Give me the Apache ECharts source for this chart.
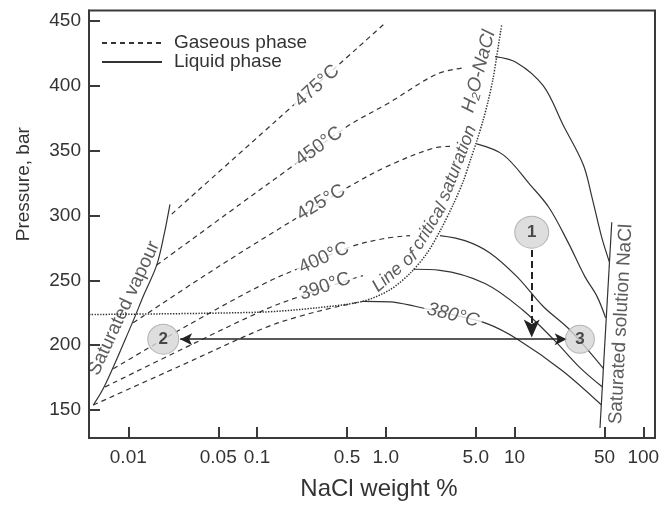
<!DOCTYPE html>
<html><head><meta charset="utf-8">
<script src="https://cdn.jsdelivr.net/npm/echarts@6/dist/echarts.min.js"></script>
<style>html,body{margin:0;padding:0;background:#fff}#c{width:667px;height:506px}</style>
</head><body><div id="c"></div>
<script>
// ---- axis ticks ----
const xTickValues = [0.01, 0.05, 0.1, 0.5, 1, 5, 10, 50, 100];
const xTickLabels = ['0.01', '0.05', '0.1', '0.5', '1.0', '5.0', '10', '50', '100'];
const yTickValues = [150, 200, 250, 300, 350, 400, 450];

// ---- curves: [NaCl wt %, pressure bar] ----
const satVapour = [[0.00535,153.8],[0.00659,169],[0.01063,216],[0.01324,239],[0.01662,261.7],[0.01893,284.8],[0.02108,308.6]];
const satSolution = [[46.1,136.1],[56.9,294.7]];
const critical = [[0.00496,223.6],[0.1054,225.4],[0.2922,228.8],[0.665,233.8],[1.078,242.7],[1.541,255.3],[2.078,270.5],[2.632,287.8],[3.344,308.6],[4.0,326.4],[4.51,341.7],[5.08,357.1],[5.69,373.1],[6.22,387.6],[6.80,405.1],[7.31,424.1],[7.95,447.0]];

const gas475 = [[0.02173,301],[0.1442,374],[0.957,447]];
const gas450 = [[0.01662,261.7],[0.0737,308.6],[0.1803,336.6],[0.4966,368.3],[1.079,387.3],[2.486,408.9],[4.125,414.0]];
const gas425 = [[0.01093,217.2],[0.0401,254.3],[0.1507,290.1],[0.5305,322.8],[1.078,338.8],[2.328,351.8],[3.152,353.3]];
const gas400 = [[0.00765,181.8],[0.0301,216.2],[0.1153,247.7],[0.2156,259.6],[0.527,275.6],[0.951,282.0],[1.542,284.5]];
const gas390 = [[0.00659,167.7],[0.02757,198.0],[0.1153,227.4],[0.2156,237.6],[0.527,250.5],[0.665,253.6]];
const gas380 = [[0.00535,153.8],[0.02521,183.9],[0.1153,213.4],[0.2156,222.3],[0.4031,229.2],[0.665,233.8]];

const liq450 = [[7.05,422.4],[10.4,417.8],[16.7,400],[23.9,369.5],[34.2,339.1],[40.0,313.7],[47.5,283.3],[54.5,264.2]];
const liq425 = [[5.08,355.2],[8.18,346.7],[13.18,323.8],[18.5,306.1],[26.0,279.4],[35.2,252.8],[43.7,237.6],[51.0,221.0]];
const liq400 = [[2.636,284.5],[4.12,280.6],[6.44,271.1],[10.44,252.8],[16.63,230.0],[26.0,213.2],[38.5,194.4],[49.1,181.8]];
const liq390 = [[1.635,258.5],[2.636,257.7],[5.90,247.5],[11.63,226.9],[20.6,203.3],[32.2,182.7],[48.2,167.7]];
const liq380 = [[0.665,233.8],[1.078,233.4],[1.686,230.0],[3.152,223.9],[6.11,216.6],[10.53,204.6],[23.4,180.5],[47.4,153.8]];

// ---- points 1,2,3 and arrows ----
const pointNames = ['1', '2', '3'];
const pointValues = [[13.6,287.1],[0.01869,204.6],[32.2,204.6]];
const arrowHoriz = [[0.02529,204.6],[25.4,204.6]];
const arrowDown = [[13.6,273.4],[13.6,205.8]];

// ---- annotation texts at [wt %, bar] ----
const tempTexts = ['475°C','450°C','425°C','400°C','390°C','380°C'];
const tempAt = [[0.2922,399.8],[0.3029,353.3],[0.3139,309.9],[0.3311,267.3],[0.3372,245.2],[3.327,223.1]];
const noteTexts = ['Saturated vapour','Saturated solution NaCl','Line of','critical','saturation','H\u2082O-NaCl'];
const noteAt = [[0.00926,228.4],[67.1,216.2],[1.181,257.1],[2.193,291.6],[3.612,340.4],[5.29,411]];

// styles (not data)
const tempRot = [42, 36, 31, 24, 19, -14];
const tempItalic = [false,false,false,false,false,true];
const noteRot = [65, 87, 41, 59, 69, 75];
const noteItalic = [false,false,true,true,true,true];
const noteSize = [19, 19, 18, 18, 18, 19];
const pointSizes = [[34,32],[31,30],[29,28]];

const lg = v => Math.log10(v);
const tr = arr => arr.map(p => [lg(p[0]), p[1]]);
const INK = '#333';
const FONT = '"Liberation Sans", Arial, sans-serif';

function lineSeries(name, data, type, width, extra) {
  return Object.assign({
    name: name, type: 'line', data: tr(data), symbol: 'none', smooth: 0.35,
    lineStyle: { color: INK, width: width, type: type },
    itemStyle: { color: INK }, z: 3, silent: true
  }, extra || {});
}

const dash = [5, 4];
const series = [
  lineSeries('Gaseous phase', gas475, dash, 1.2),
  lineSeries('Gaseous phase', gas450, dash, 1.2),
  lineSeries('Gaseous phase', gas425, dash, 1.2),
  lineSeries('Gaseous phase', gas400, dash, 1.2),
  lineSeries('Gaseous phase', gas390, dash, 1.2),
  lineSeries('Gaseous phase', gas380, dash, 1.2),
  lineSeries('Liquid phase', liq450, 'solid', 1.2),
  lineSeries('Liquid phase', liq425, 'solid', 1.2),
  lineSeries('Liquid phase', liq400, 'solid', 1.2),
  lineSeries('Liquid phase', liq390, 'solid', 1.2),
  lineSeries('Liquid phase', liq380, 'solid', 1.2),
  lineSeries('sv', satVapour, 'solid', 1.2),
  lineSeries('ss', satSolution, 'solid', 1.2, {smooth: false}),
  lineSeries('crit', critical, [1.4, 1.4], 1.5, {smooth: 0.3}),
  {
    name: 'arrows', type: 'line', data: [], silent: true,
    markLine: {
      silent: true, animation: false, label: { show: false },
      data: [
        [{ coord: [lg(arrowHoriz[0][0]), arrowHoriz[0][1]], symbol: 'arrow' },
         { coord: [lg(arrowHoriz[1][0]), arrowHoriz[1][1]], symbol: 'arrow' }],
        [{ coord: [lg(arrowDown[0][0]), arrowDown[0][1]], symbol: 'none', lineStyle: { type: [7, 4], width: 2 } },
         { coord: [lg(arrowDown[1][0]), arrowDown[1][1]], symbol: 'arrow', symbolSize: [12, 18] }]
      ],
      symbolSize: [9, 12],
      lineStyle: { color: '#222', width: 1.5, type: 'solid' }
    }, z: 4
  },
  {
    name: 'temps', type: 'scatter', symbolSize: 1, itemStyle: { color: 'rgba(0,0,0,0)' }, silent: true, z: 6,
    data: tempTexts.map((t, i) => ({
      value: [lg(tempAt[i][0]), tempAt[i][1]],
      label: { show: true, position: 'inside', formatter: t, rotate: tempRot[i],
        fontSize: 19, fontFamily: FONT, color: INK, fontStyle: tempItalic[i] ? 'italic' : 'normal',
        backgroundColor: '#fff', padding: [0, 3] }
    }))
  },
  {
    name: 'notes', type: 'scatter', symbolSize: 1, itemStyle: { color: 'rgba(0,0,0,0)' }, silent: true, z: 6,
    data: noteTexts.map((t, i) => ({
      value: [lg(noteAt[i][0]), noteAt[i][1]],
      label: { show: true, position: 'inside', formatter: t, rotate: noteRot[i],
        fontSize: noteSize[i], fontFamily: FONT, color: INK, fontStyle: noteItalic[i] ? 'italic' : 'normal' }
    }))
  },
  {
    name: 'points', type: 'scatter', silent: true, z: 7,
    data: pointNames.map((n, i) => ({
      value: [lg(pointValues[i][0]), pointValues[i][1]],
      symbolSize: pointSizes[i],
      label: { show: true, position: 'inside', formatter: n, fontSize: 17, fontWeight: 'bold', fontFamily: FONT, color: '#222' }
    })),
    symbol: 'circle',
    itemStyle: { color: '#d6d6d6', borderColor: '#a5a5a5', borderWidth: 1 }
  }
];

const chart = echarts.init(document.getElementById('c'), null, { renderer: 'canvas' });
chart.setOption({
  animation: false,
  backgroundColor: '#fff',
  textStyle: { fontFamily: FONT },
  grid: { left: 89, right: 12, top: 10.5, bottom: 62.7, show: true, borderColor: '#3a3a3a', borderWidth: 2, containLabel: false },
  legend: {
    data: ['Gaseous phase', 'Liquid phase'], orient: 'vertical', left: 101, top: 33.5, padding: 0,
    itemWidth: 60, itemHeight: 12, itemGap: 0, selectedMode: false,
    itemStyle: { opacity: 0 },
    textStyle: { fontSize: 19, color: INK, fontFamily: FONT, padding: [0, 0, 0, 7] }
  },
  xAxis: {
    type: 'value', min: -2.305, max: 2.091,
    name: 'NaCl weight %', nameLocation: 'middle', nameGap: 39,
    nameTextStyle: { fontSize: 24, color: INK, fontFamily: FONT, padding: [0, 0, 0, 14] },
    axisLine: { show: true, onZero: false, lineStyle: { color: '#3a3a3a', width: 2 } },
    axisTick: { show: true, inside: true, length: 11, lineStyle: { color: '#3a3a3a', width: 2 }, customValues: xTickValues.map(lg) },
    axisLabel: { show: true, fontSize: 19, color: INK, margin: 10, customValues: xTickValues.map(lg),
      formatter: v => { let b = 0; xTickValues.forEach((t, i) => { if (Math.abs(lg(t) - v) < Math.abs(lg(xTickValues[b]) - v)) b = i; }); return xTickLabels[b]; } },
    splitLine: { show: false }
  },
  yAxis: {
    type: 'value', min: 128.4, max: 458,
    name: 'Pressure, bar', nameLocation: 'middle', nameGap: 56,
    nameTextStyle: { fontSize: 19, color: INK, fontFamily: FONT, padding: [0, 0, 0, 80] },
    axisLine: { show: true, onZero: false, lineStyle: { color: '#3a3a3a', width: 2 } },
    axisTick: { show: true, inside: true, length: 11, lineStyle: { color: '#3a3a3a', width: 2 }, customValues: yTickValues },
    axisLabel: { show: true, fontSize: 19, color: INK, margin: 8, customValues: yTickValues },
    splitLine: { show: false }
  },
  series: series
});
</script></body></html>
